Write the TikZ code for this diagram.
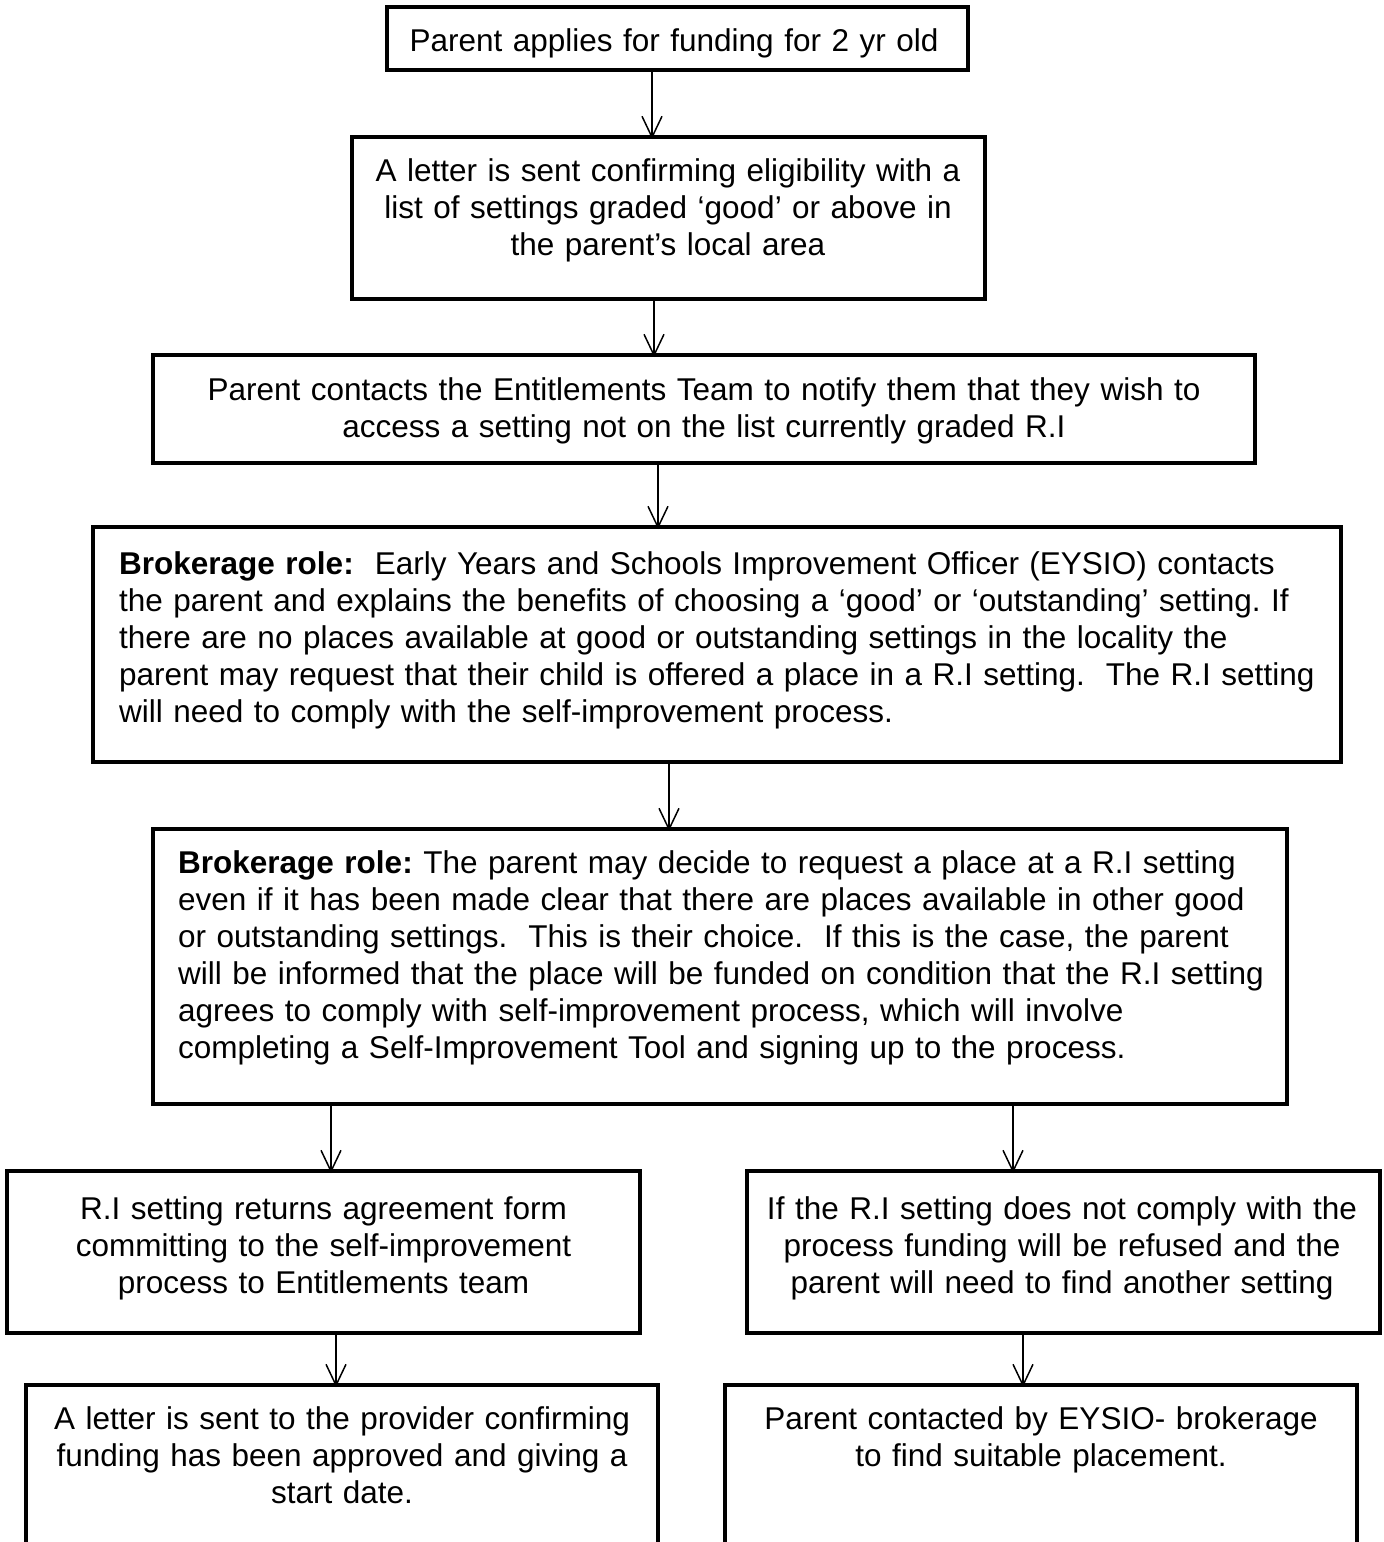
\documentclass[tikz,border=0pt]{standalone}
\usepackage{fontspec}
\setmainfont{Liberation Sans}
\usetikzlibrary{arrows.meta}
\frenchspacing
\hyphenpenalty=10000
\exhyphenpenalty=10000
\begin{document}
\begin{tikzpicture}[x=1pt,y=-1pt,
  box/.style={draw, line width=4.5pt, inner sep=0pt, outer sep=0pt, anchor=north west},
  txt/.style={inner sep=0pt, anchor=north, align=center, font=\fontsize{31.5}{37}\selectfont},
  ltxt/.style={inner sep=0pt, anchor=north west, align=left, font=\fontsize{31.5}{37}\selectfont},
  arr/.style={line width=1.5pt, -{Straight Barb[length=21pt,width=20pt,line width=1.5pt]}}]
\useasboundingbox (0,0) rectangle (1384,1542);
\clip (0,0) rectangle (1384,1542);
\fill[white] (0,0) rectangle (1384,1542);
% boxes
\node[box, minimum width=581pt, minimum height=63pt] (b1) at (387,7) {};
\node[box, minimum width=633pt, minimum height=162pt] (b2) at (352,137) {};
\node[box, minimum width=1102pt, minimum height=108pt] (b3) at (153,355) {};
\node[box, minimum width=1248pt, minimum height=235pt] (b4) at (93,527) {};
\node[box, minimum width=1134pt, minimum height=275pt] (b5) at (153,829) {};
\node[box, minimum width=633pt, minimum height=162pt] (b6) at (7,1171) {};
\node[box, minimum width=633pt, minimum height=162pt] (b7) at (747,1171) {};
\node[box, minimum width=632pt, minimum height=220pt] (b8) at (26,1385) {};
\node[box, minimum width=632pt, minimum height=220pt] (b9) at (725,1385) {};
% texts
\node[txt, text width=640pt] (t1) at (674,28) {Parent applies for funding for 2 yr old};
\node[txt, text width=660pt] (t2) at (668,158) {A letter is sent confirming eligibility with a\\ list of settings graded ‘good’ or above in\\ the parent’s local area};
\node[txt, text width=1150pt] (t3) at (704,377) {Parent contacts the Entitlements Team to notify them that they wish to\\ access a setting not on the list currently graded R.I};
\node[ltxt, text width=1260pt] (t4) at (119,551) {\textbf{Brokerage role:}\ \ Early Years and Schools Improvement Officer (EYSIO) contacts\\
the parent and explains the benefits of choosing a ‘good’ or ‘outstanding’ setting. If\\
there are no places available at good or outstanding settings in the locality the\\
parent may request that their child is offered a place in a R.I setting.\ \ The R.I setting\\
will need to comply with the self-improvement process.};
\node[ltxt, text width=1180pt] (t5) at (178,850) {\textbf{Brokerage role:} The parent may decide to request a place at a R.I setting\\
even if it has been made clear that there are places available in other good\\
or outstanding settings.\ \ This is their choice.\ \ If this is the case, the parent\\
will be informed that the place will be funded on condition that the R.I setting\\
agrees to comply with self-improvement process, which will involve\\
completing a Self-Improvement Tool and signing up to the process.};
\node[txt, text width=660pt] (t6) at (323.5,1196) {R.I setting returns agreement form\\ committing to the self-improvement\\ process to Entitlements team};
\node[txt, text width=660pt] (t7) at (1062,1196) {If the R.I setting does not comply with the\\ process funding will be refused and the\\ parent will need to find another setting};
\node[txt, text width=660pt] (t8) at (342,1406) {A letter is sent to the provider confirming\\ funding has been approved and giving a\\ start date.};
\node[txt, text width=660pt] (t9) at (1041,1406) {Parent contacted by EYSIO- brokerage\\ to find suitable placement.};
% arrow x positions
\coordinate (x1) at (652,0);
\coordinate (x2) at (654,0);
\coordinate (x3) at (658,0);
\coordinate (x4) at (669,0);
\coordinate (x5) at (331,0);
\coordinate (x6) at (1013,0);
\coordinate (x7) at (336,0);
\coordinate (x8) at (1023,0);
% connectors
\draw[arr] (b1.south -| x1) -- ([yshift=-2pt]b2.north -| x1);
\draw[arr] (b2.south -| x2) -- ([yshift=-2pt]b3.north -| x2);
\draw[arr] (b3.south -| x3) -- ([yshift=-2pt]b4.north -| x3);
\draw[arr] (b4.south -| x4) -- ([yshift=-2pt]b5.north -| x4);
\draw[arr] (b5.south -| x5) -- ([yshift=-2pt]b6.north -| x5);
\draw[arr] (b5.south -| x6) -- ([yshift=-2pt]b7.north -| x6);
\draw[arr] (b6.south -| x7) -- ([yshift=-2pt]b8.north -| x7);
\draw[arr] (b7.south -| x8) -- ([yshift=-2pt]b9.north -| x8);
\end{tikzpicture}
\end{document}
